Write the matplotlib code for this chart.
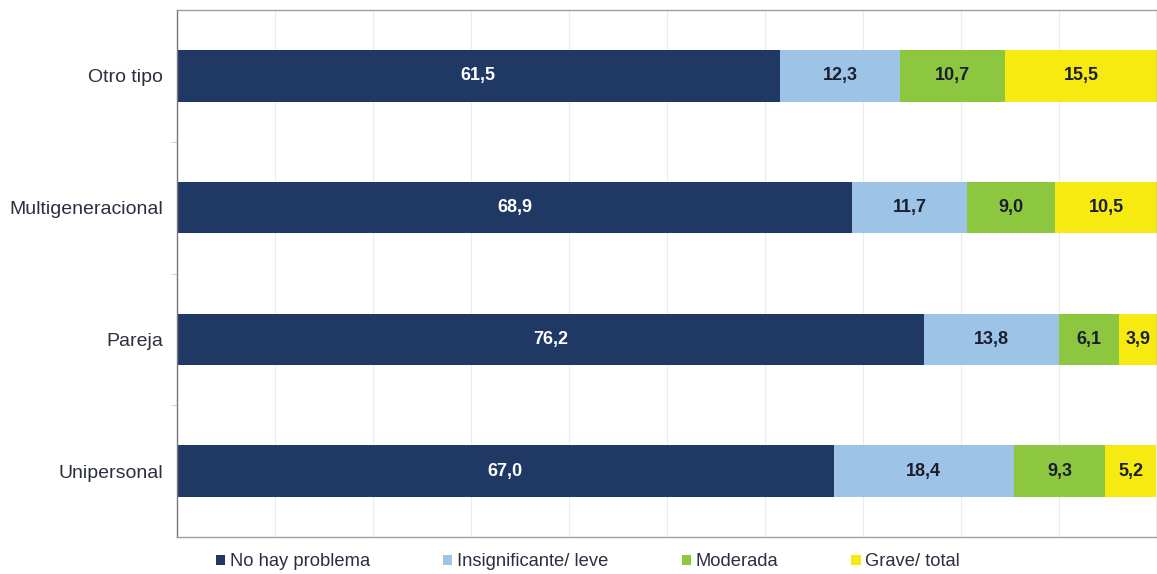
import matplotlib.pyplot as plt
import numpy as np

# ===== DATA =====
categorias = ["Unipersonal", "Pareja", "Multigeneracional", "Otro tipo"]
no_problema = [67.0, 76.2, 68.9, 61.5]
leve = [18.4, 13.8, 11.7, 12.3]
moderada = [9.3, 6.1, 9.0, 10.7]
grave = [5.2, 3.9, 10.5, 15.5]

series = [no_problema, leve, moderada, grave]
nombres = ["No hay problema", "Insignificante/ leve", "Moderada", "Grave/ total"]
colores = ["#1f3864", "#9dc3e6", "#8dc63f", "#f7ea10"]
color_texto = ["white", "#1a1f2e", "#1a1f2e", "#1a1f2e"]

plt.rcParams['font.family'] = ['Liberation Sans', 'DejaVu Sans']

# ===== PLOT =====
fig = plt.figure(figsize=(11.57, 5.74), dpi=100)
ax = fig.add_axes([177 / 1157, 37 / 574, 980 / 1157, 527 / 574])

y = np.arange(len(categorias))
izquierda = np.zeros(len(categorias))

for vals, nombre, col, tcol in zip(series, nombres, colores, color_texto):
    vals = np.array(vals)
    barras = ax.barh(y, vals, left=izquierda, height=0.39, color=col,
                     label=nombre, zorder=2)
    for b, v in zip(barras, vals):
        cx = b.get_x() + b.get_width() / 2
        ax.text(cx, b.get_y() + b.get_height() / 2, f"{v:.1f}".replace(".", ","),
                ha="center", va="center", color=tcol, fontsize=13,
                fontweight="bold", zorder=3)
    izquierda += vals

ax.set_xlim(0, 100)
ax.set_ylim(-0.5, 3.5)
ax.set_xticks(np.arange(0, 101, 10))
ax.set_xticklabels([])
ax.tick_params(axis="x", length=0)
ax.grid(axis="x", color="#ececec", linewidth=0.8, zorder=0)

ax.set_yticks(y)
ax.set_yticklabels(categorias, fontsize=14, color="#2b2f3f")
ax.set_yticks([0.5, 1.5, 2.5], minor=True)
ax.tick_params(axis="y", which="major", length=0, pad=10)
ax.tick_params(axis="y", which="minor", length=4, color="#cccccc")

for s in ax.spines.values():
    s.set_color("#a0a0a0")
    s.set_linewidth(1.0)
ax.spines["left"].set_color("#777777")

fig.legend(loc="center left", bbox_to_anchor=(216 / 1157, 1 - 562 / 574),
           ncol=4, frameon=False, fontsize=13.2, handlelength=0.5,
           handleheight=0.5, handletextpad=0.25, columnspacing=4.0,
           labelcolor="#2b2f3f", borderaxespad=0, borderpad=0)

fig.savefig("out.png", dpi=100)
